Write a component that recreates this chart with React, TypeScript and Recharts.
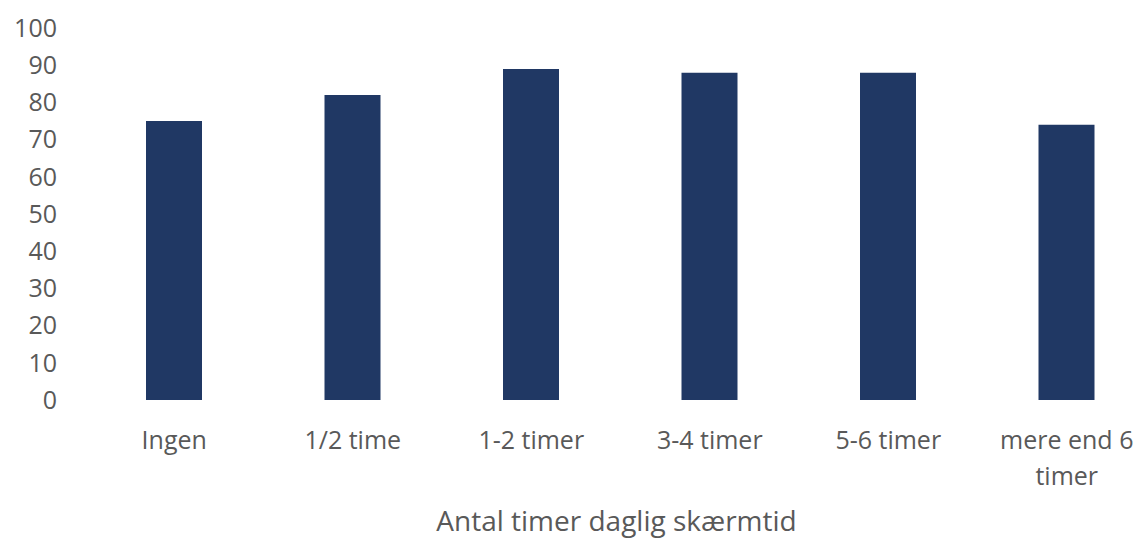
import { BarChart, Bar, XAxis, YAxis } from "recharts";

const categories = ["Ingen", "1/2 time", "1-2 timer", "3-4 timer", "5-6 timer", "mere end 6 timer"];
const tickLines = [["Ingen"], ["1/2 time"], ["1-2 timer"], ["3-4 timer"], ["5-6 timer"], ["mere end 6", "timer"]];
const values = [75, 82, 89, 88, 88, 74];
const yTicks = [0, 10, 20, 30, 40, 50, 60, 70, 80, 90, 100];

const data = categories.map((c, i) => ({ name: c, value: values[i] }));

const FONT = "'Open Sans', sans-serif";
const TEXT = "#595959";

const CategoryTick = (props: any) => {
  const { x, y, index } = props;
  const lines = tickLines[index] || [props.payload.value];
  return (
    <text x={x} y={y} fill={TEXT} fontSize={25} fontFamily={FONT} textAnchor="middle">
      {lines.map((l, i) => (
        <tspan key={i} x={x} dy={i === 0 ? 41 : 36}>
          {l}
        </tspan>
      ))}
    </text>
  );
};

// axis title drawn at a fixed baseline below the tick labels
const AxisTitle = (props: any) => {
  const { viewBox } = props;
  const cx = viewBox.x + viewBox.width / 2 - 4;
  return (
    <text x={cx} y={523} fill={TEXT} fontSize={28} fontFamily={FONT} textAnchor="middle">
      Antal timer daglig skærmtid
    </text>
  );
};

export default function App() {
  return (
    <div style={{ width: 1133, height: 532, overflow: "hidden", background: "#fff" }}>
      <BarChart
        width={1148}
        height={532}
        data={data}
        margin={{ top: 20, right: 0, bottom: 0, left: 0 }}
      >
        <XAxis
          dataKey="name"
          axisLine={false}
          tickLine={false}
          height={140}
          interval={0}
          tick={<CategoryTick />}
          label={<AxisTitle />}
        />
        <YAxis
          domain={[0, 100]}
          ticks={yTicks}
          interval={0}
          width={77}
          axisLine={false}
          tickLine={false}
          tickSize={0}
          tickMargin={28}
          tick={{ fill: TEXT, fontSize: 25, fontFamily: FONT }}
        />
        <Bar dataKey="value" fill="#203864" barSize={56} isAnimationActive={false} />
      </BarChart>
    </div>
  );
}
